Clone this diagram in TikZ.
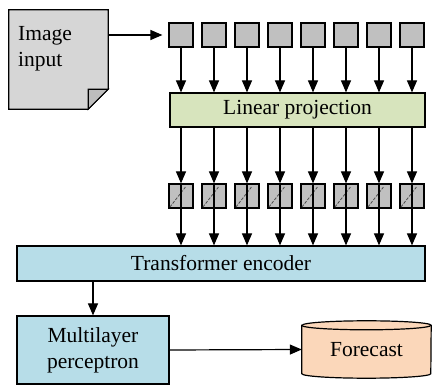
\documentclass[tikz,border=0pt]{standalone}
\usepackage{fontspec}
\setmainfont{Liberation Serif}[Scale=1.0]
\usetikzlibrary{arrows.meta}
\definecolor{docgray}{HTML}{D6D6D6}
\definecolor{foldgray}{HTML}{BDBDBD}
\definecolor{patchgray}{HTML}{C0C0C0}
\definecolor{lpgreen}{HTML}{D7E4BD}
\definecolor{tblue}{HTML}{B7DDE8}
\definecolor{peach}{HTML}{FBD7BA}
\newfontfamily\labelfont{Liberation Serif}
\begin{document}
\begin{tikzpicture}[x=1pt,y=-1pt,
  every node/.style={font=\labelfont\fontsize{21.5}{26}\selectfont, inner sep=0pt},
  ln/.style={line width=1.2pt, draw=black},
  arr/.style={ln, -{Triangle[width=10pt,length=12pt]}},
  patch/.style={ln, fill=patchgray, minimum width=24pt, minimum height=24pt},
  box/.style={ln, align=center},
  hatch/.style={draw=black!70, line width=0.8pt, dash pattern=on 3pt off 1.5pt},
]
\useasboundingbox (0,0) rectangle (432,385);

% input document with folded corner
\node[minimum width=99pt, minimum height=99pt] (doc) at (58.5,59.5) {};
\draw[ln, fill=docgray] (doc.north west) -- (doc.north east)
  -- ([yshift=20pt]doc.south east) -- ([xshift=-20pt]doc.south east)
  -- (doc.south west) -- cycle;
\draw[ln, fill=foldgray] ([xshift=-20pt]doc.south east)
  -- ([xshift=-20pt,yshift=20pt]doc.south east)
  -- ([yshift=20pt]doc.south east) -- cycle;
\node[anchor=north west, align=left] (doctext) at (18,26) {Image\\input};

% image patches
\foreach \i in {0,...,7}
  \node[patch] (p\i) at ({181+33*\i},35) {};

\node[box, fill=lpgreen, minimum width=255pt, minimum height=34pt] (lp) at (297.5,110) {Linear projection};

% embedded patches
\foreach \i in {0,...,7}
  \node[patch] (h\i) at ({181+33*\i},196) {};

\node[box, fill=tblue, minimum width=408pt, minimum height=35pt] (te) at (221,263.5) {Transformer encoder};
\node[box, fill=tblue, minimum width=152pt, minimum height=68pt] (mlp) at (93,350) {Multilayer\\perceptron};

% forecast cylinder
\node[minimum width=129pt, minimum height=57pt] (fc) at (366.5,349.5) {};
\path[ln, fill=peach] ([yshift=-4.5pt]fc.north west) -- ([yshift=4.5pt]fc.south west)
  arc[start angle=180, end angle=360, x radius=64.5pt, y radius=4.5pt]
  -- ([yshift=-4.5pt]fc.north east)
  arc[start angle=0, end angle=180, x radius=64.5pt, y radius=4.5pt] -- cycle;
\draw[ln] ([yshift=-4.5pt]fc.north west)
  arc[start angle=180, end angle=360, x radius=64.5pt, y radius=4.5pt];
\node (fctext) at (fc.center) {Forecast};

% connectors
\draw[arr, shorten >=6pt] (doc.east |- p0.west) -- (p0.west);
\foreach \i in {0,...,7} {
  \draw[arr] (p\i.south) -- (p\i.south |- lp.north);
  \draw[hatch] ([xshift=1.5pt,yshift=1.5pt]h\i.south west) -- ([xshift=17pt,yshift=21.5pt]h\i.south west);
  \draw[arr] (h\i.north |- lp.south) -- (h\i.north);
  \draw[ln] (h\i.north) -- (h\i.south);
  \draw[arr] (h\i.south) -- (h\i.south |- te.north);
}
\draw[arr] (mlp.north |- te.south) -- (mlp.north);
\draw[arr] (mlp.east) -- (fc.west);
\end{tikzpicture}
\end{document}
